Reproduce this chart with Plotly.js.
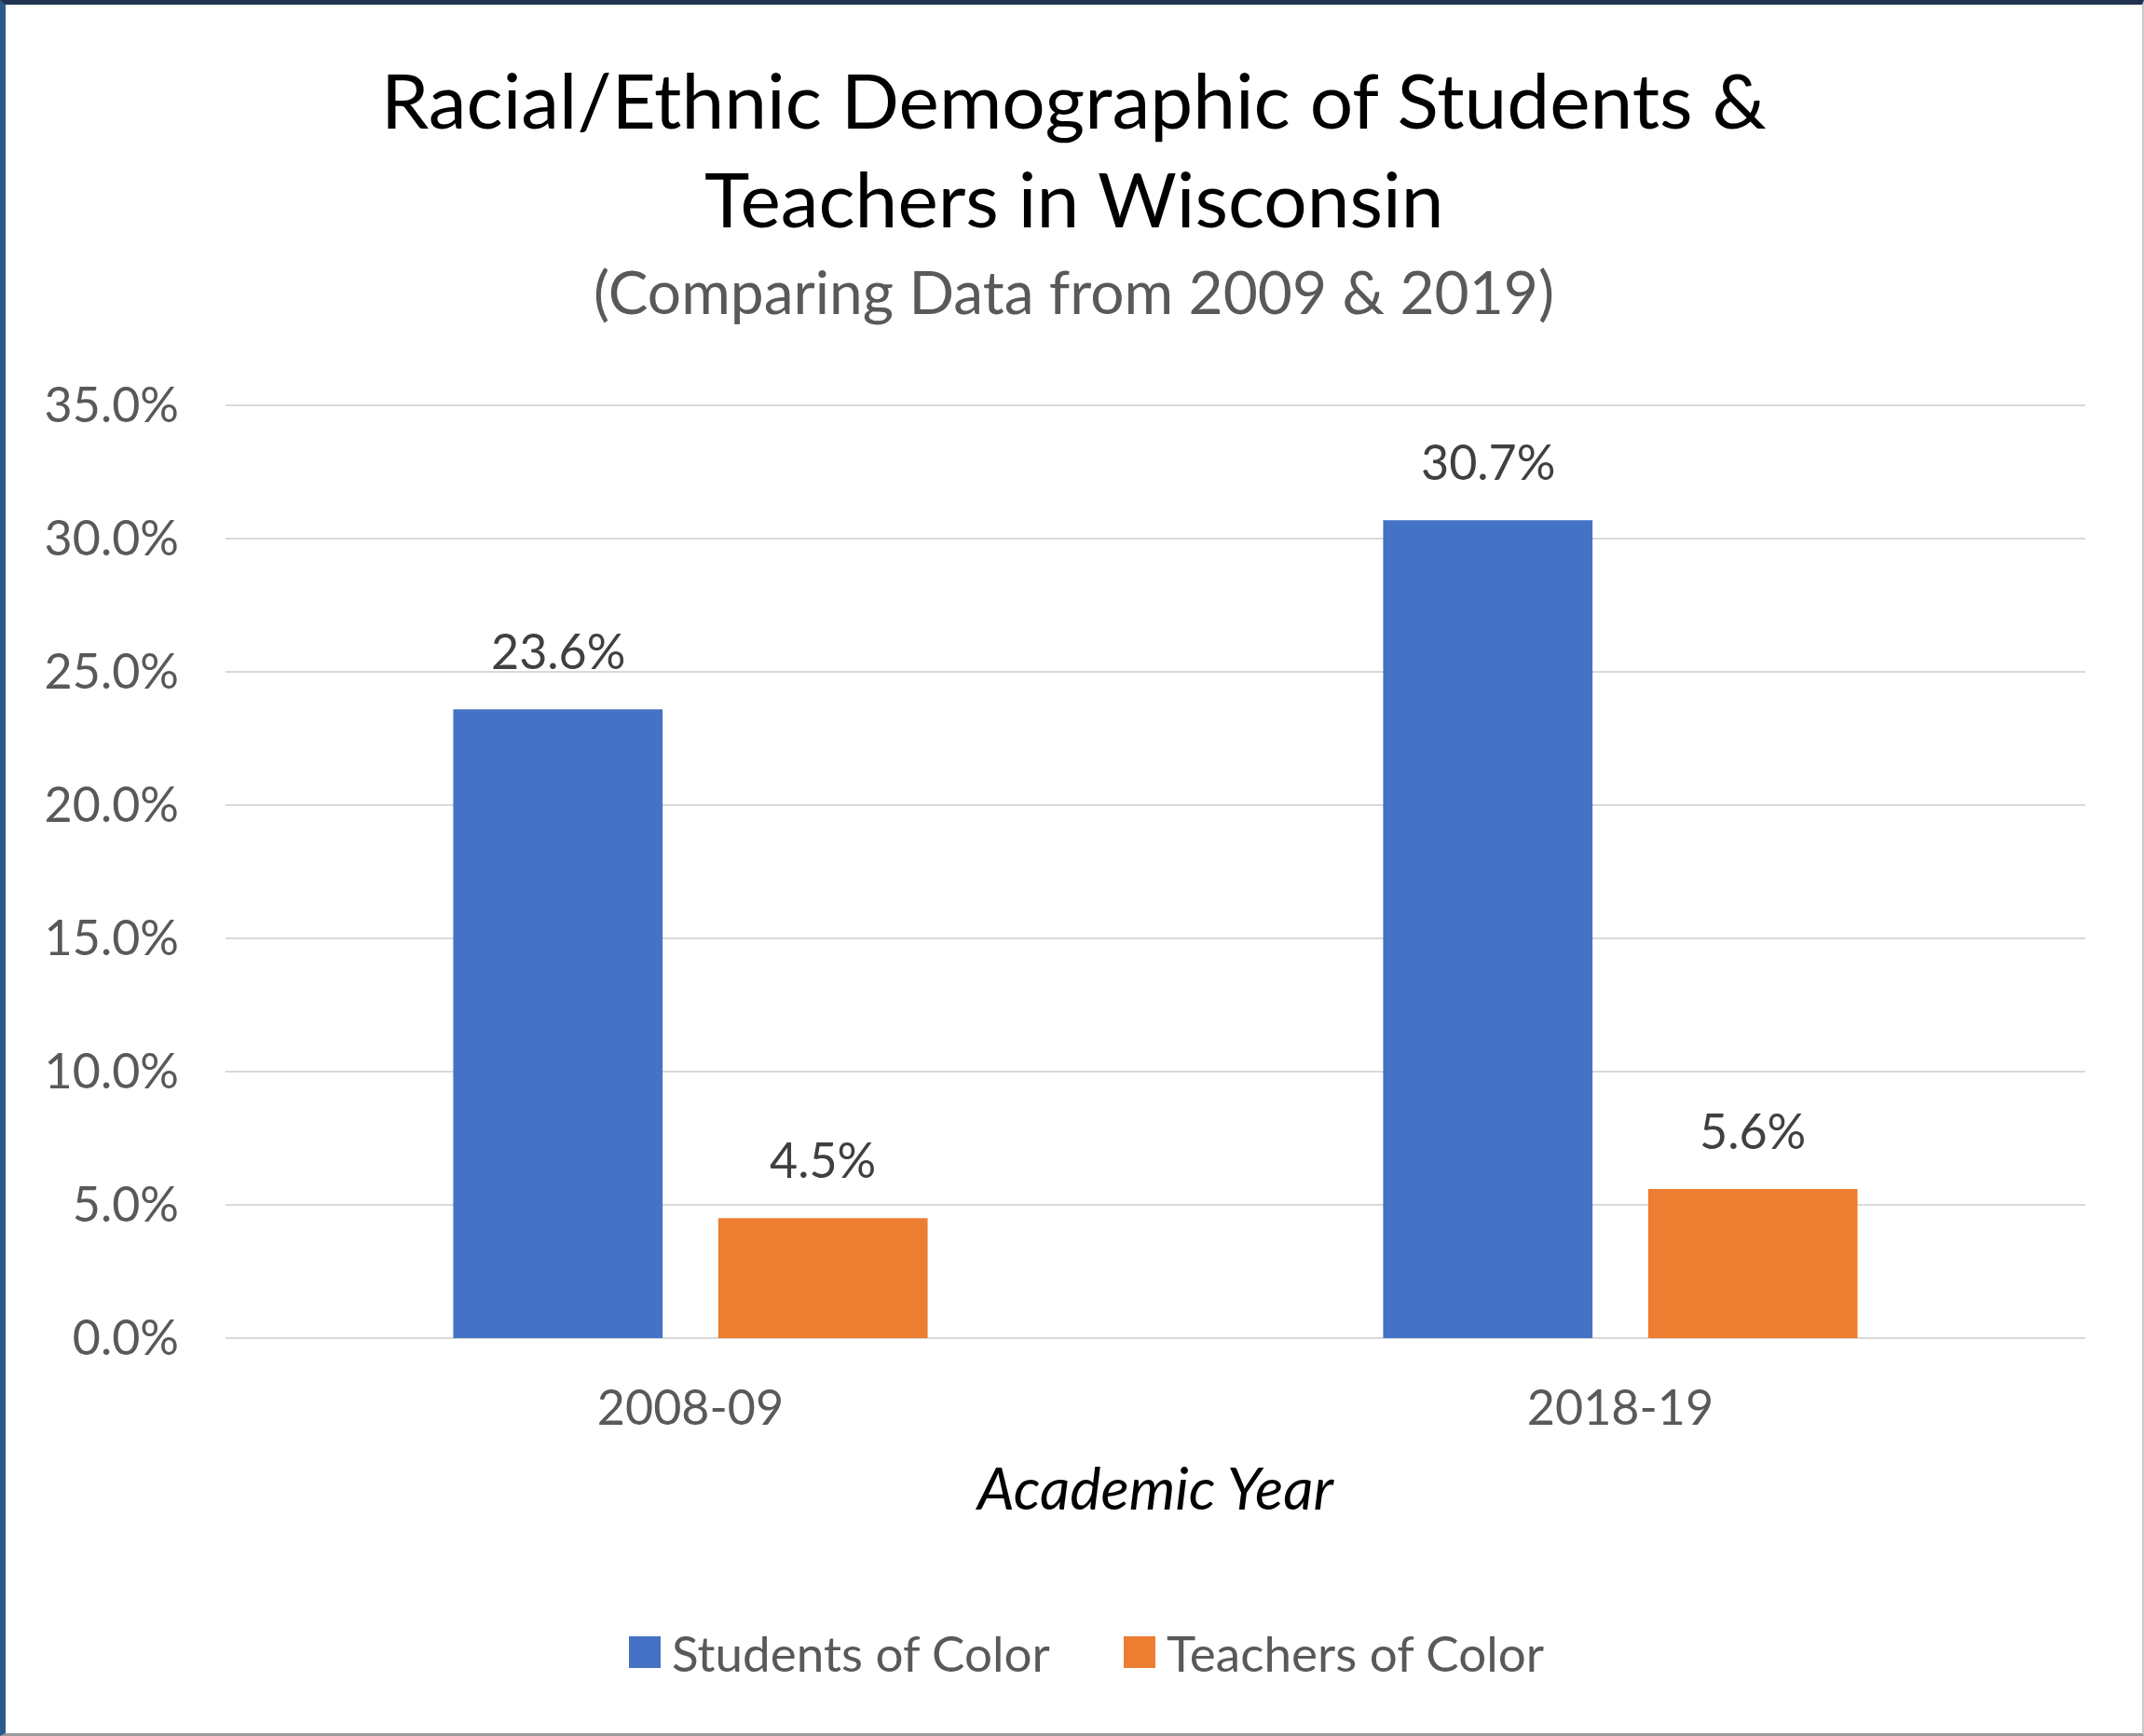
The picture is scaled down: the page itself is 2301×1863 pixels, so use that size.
<!DOCTYPE html>
<html>
<head>
<meta charset="utf-8">
<script src="https://cdn.plot.ly/plotly-3.0.1.min.js"></script>
<style>
  html, body { margin: 0; padding: 0; background: #fff; }
  #frame { box-sizing: border-box; width: 2301px; height: 1863px; border-top: 5px solid #1f3350; border-left: 6px solid #2b5a8c; border-right: 2px solid #c8c8c8; border-bottom: 3px solid #9a9a9a; overflow: hidden; }
  #chart { width: 2293px; height: 1855px; }
</style>
</head>
<body>
<div id="frame"><div id="chart"></div></div>
<script>
const years = ["2008-09", "2018-19"];
const students = [23.6, 30.7];
const teachers = [4.5, 5.6];
const seriesNames = ["Students of Color", "Teachers of Color"];
const seriesColors = ["#4472c4", "#ed7d31"];
const yTicks = [0, 5, 10, 15, 20, 25, 30, 35];

const font = "Lato, 'Open Sans', sans-serif";
const W = 2293, H = 1855;
const M = { l: 236, r: 61, t: 428, b: 424 };
const plotW = W - M.l - M.r, plotH = H - M.t - M.b;
const pageCenterX = (W / 2 - M.l) / plotW;
const BARGAP = 0.43, BARGROUPGAP = 0.21;
// half the width of one bar slot inside a group, in pixels
const slotPx = (plotW / years.length) * (1 - BARGAP) / 2;

const seriesVals = [students, teachers];
const traces = seriesVals.map((vals, i) => ({
  type: "bar", name: seriesNames[i], x: years, y: vals,
  marker: { color: seriesColors[i] },
  hoverinfo: "x+y", showlegend: false
}));

// value labels above bars
const valueLabels = [];
seriesVals.forEach((vals, i) => {
  vals.forEach((v, j) => {
    valueLabels.push({
      text: v.toFixed(1) + "%", xref: "x", yref: "y", x: years[j], y: v,
      xshift: (i - 0.5) * slotPx, yshift: 63, xanchor: "center", yanchor: "middle",
      showarrow: false, font: { family: font, size: 52, color: "#404040" }
    });
  });
});

// legend (squares + text, below the axis title)
const legendY = -(1773 - 5 - M.t - plotH) / plotH;
const legendItems = [
  { sq0: 675, sq1: 709, tx: 719 },
  { sq0: 1206, sq1: 1240, tx: 1250 }
];
const shapes = legendItems.map((it, i) => ({
  type: "rect", xref: "paper", yref: "paper",
  x0: (it.sq0 - 6 - M.l) / plotW, x1: (it.sq1 - 6 - M.l) / plotW,
  y0: legendY - 17 / plotH, y1: legendY + 17 / plotH,
  fillcolor: seriesColors[i], line: { width: 0 }
}));
const legendAnn = legendItems.map((it, i) => ({
  text: seriesNames[i], xref: "paper", yref: "paper",
  x: (it.tx - 6 - M.l) / plotW, y: legendY, xanchor: "left", yanchor: "middle",
  showarrow: false, font: { family: font, size: 53, color: "#595959" }
}));

const layout = {
  width: W, height: H,
  paper_bgcolor: "#ffffff", plot_bgcolor: "#ffffff",
  margin: M,
  font: { family: font, color: "#595959" },
  annotations: [
    { text: "Racial/Ethnic Demographic of Students &", xref: "paper", yref: "paper",
      x: pageCenterX, y: 1, yshift: M.t - 101, xanchor: "center", yanchor: "middle", showarrow: false,
      font: { family: font, size: 82, color: "#000000" } },
    { text: "Teachers in Wisconsin", xref: "paper", yref: "paper",
      x: pageCenterX, y: 1, yshift: M.t - 207, xanchor: "center", yanchor: "middle", showarrow: false,
      font: { family: font, size: 82, color: "#000000" } },
    { text: "(Comparing Data from 2009 & 2019)", xref: "paper", yref: "paper",
      x: pageCenterX, y: 1, yshift: M.t - 307, xanchor: "center", yanchor: "middle", showarrow: false,
      font: { family: font, size: 64, color: "#595959" } }
  ].concat(valueLabels, legendAnn),
  shapes: shapes,
  barmode: "group", bargap: BARGAP, bargroupgap: BARGROUPGAP,
  xaxis: {
    type: "category",
    showgrid: false, showline: false, zeroline: false, ticks: "",
    tickfont: { family: font, size: 52, color: "#595959" }, ticklabelstandoff: 40,
    title: { text: "<i>Academic Year</i>", font: { family: font, size: 63, color: "#000000" }, standoff: 36 }
  },
  yaxis: {
    range: [0, 35.08], tickvals: yTicks, ticktext: yTicks.map(v => v.toFixed(1) + "%"),
    showgrid: true, gridcolor: "#d9d9d9", gridwidth: 2,
    zeroline: true, zerolinecolor: "#d9d9d9", zerolinewidth: 2,
    showline: false, ticks: "", ticklabelstandoff: 49,
    tickfont: { family: font, size: 52, color: "#595959" }
  },
  showlegend: false
};

Plotly.newPlot("chart", traces, layout, { displayModeBar: false, staticPlot: true });
</script>
</body>
</html>
